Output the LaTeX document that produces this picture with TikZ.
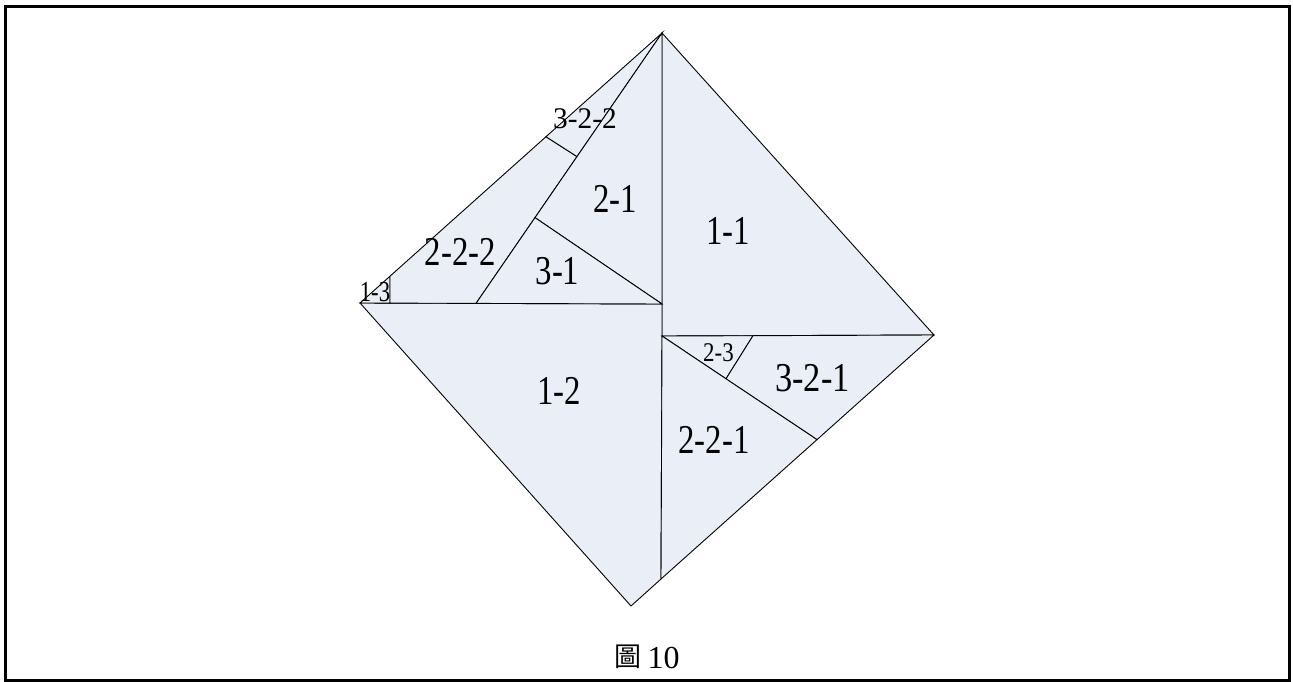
\documentclass[tikz,border=0pt]{standalone}
\usepackage{fontspec}
\setmainfont{Liberation Serif}
\newfontfamily\cjkfont{Noto Sans CJK TC}
\usetikzlibrary{calc}
\definecolor{piecefill}{RGB}{233,238,247}
\begin{document}
\begin{tikzpicture}[x=1pt,y=-1pt,
  piece/.style={fill=piecefill,draw=black,line width=0.9pt,line join=miter},
  biglbl/.style={inner sep=0pt,font=\fontsize{41}{41}\selectfont,xscale=0.8},
  smalllbl/.style={inner sep=0pt,font=\fontsize{29}{29}\selectfont,xscale=0.85},
  frame/.style={draw=black,line width=2.4pt}]
\useasboundingbox (0,0) rectangle (1293,682);
\draw[frame] (5.5,6.7) rectangle (1289.5,680.3);
% main vertices
\coordinate (T) at (662,33);
\coordinate (R) at (934,335);
\coordinate (B) at (631,606);
\coordinate (L) at (360,303);
\coordinate (M1) at (662,304);
\coordinate (M2) at (662,336);
\coordinate (M3) at (661,579);
% upper-left subdivision
\coordinate (P1) at ($(L)!30/302!(T)$);
\coordinate (P1b) at (390,303.1);
\coordinate (Q) at (476,303.4);
\coordinate (Q2) at ($(Q)!59/186!(T)$);
\coordinate (Q3) at ($(Q)!101/186!(T)$);
\coordinate (P2) at ($(L)!186/302!(T)$);
% lower-right subdivision
\coordinate (D1) at (753,335.7);
\coordinate (D2) at ($(R)!117/303!(B)$);
\coordinate (D3) at ($(M2)!64/155!(D2)$);
% pieces
\draw[piece] (T) -- (R) -- (M2) -- (M1) -- cycle;
\draw[piece] (L) -- (M1) -- (M2) -- (M3) -- (B) -- cycle;
\draw[piece] (L) -- (P1) -- (P1b) -- cycle;
\draw[piece] (P1) -- (P2) -- (Q3) -- (Q) -- (P1b) -- cycle;
\draw[piece] (P2) -- (T) -- (Q3) -- cycle;
\draw[piece] (T) -- (M1) -- (Q2) -- cycle;
\draw[piece] (Q2) -- (M1) -- (Q) -- cycle;
\draw[piece] (M2) -- (D1) -- (D3) -- cycle;
\draw[piece] (D1) -- (R) -- (D2) -- (D3) -- cycle;
\draw[piece] (M2) -- (D2) -- (M3) -- cycle;
% labels
\node[biglbl] (l11) at (728,231) {1-1};
\node[biglbl] (l12) at (559,390.5) {1-2};
\node[smalllbl,xscale=0.92] (l13) at (375,292.5) {1-3};
\node[biglbl] (l21) at (615,199) {2-1};
\node[biglbl] (l222) at (460.5,251.5) {2-2-2};
\node[biglbl] (l221) at (714,439.5) {2-2-1};
\node[smalllbl,font=\fontsize{27}{27}\selectfont] (l23) at (718.5,352.5) {2-3};
\node[biglbl] (l31) at (557.5,271) {3-1};
\node[biglbl,xscale=1.05] (l321) at (812.5,378.5) {3-2-1};
\node[smalllbl,font=\fontsize{30}{30}\selectfont,xscale=1.15] (l322) at (585,119) {3-2-2};
\node[inner sep=0pt,anchor=base,font=\cjkfont\fontsize{27}{27}\selectfont] (capA) at (627.5,666) {圖};
\node[inner sep=0pt,anchor=base west,font=\fontsize{32}{32}\selectfont] (capB) at (647.5,668) {10};
\end{tikzpicture}
\end{document}
